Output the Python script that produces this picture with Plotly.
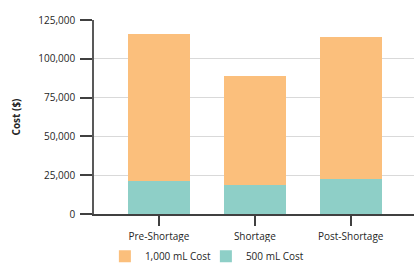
import plotly.graph_objects as go

categories = ["Pre-Shortage", "Shortage", "Post-Shortage"]
cost_500 = [21200, 19000, 22600]
cost_1000 = [94500, 69700, 91400]
y_ticks = [0, 25000, 50000, 75000, 100000, 125000]

FONT = "Open Sans"
fig = go.Figure()
fig.add_bar(x=categories, y=cost_500, name="500 mL Cost", marker_color="#8ECFC7",
            marker_line_width=0, width=0.65)
fig.add_bar(x=categories, y=cost_1000, name="1,000 mL Cost", marker_color="#FBBF7C",
            marker_line_width=0, width=0.65)

fig.update_layout(
    barmode="stack",
    width=418, height=268,
    margin=dict(l=94, r=4, t=20, b=54, autoexpand=False),
    paper_bgcolor="white", plot_bgcolor="white",
    font=dict(family=FONT, size=10, color="#262626"),
    showlegend=True,
    legend=dict(orientation="h", x=0.034, xanchor="left", y=-0.218, yanchor="middle",
                traceorder="reversed", font=dict(size=10), entrywidth=56),
    xaxis=dict(range=[-0.677, 2.66], showline=True, linecolor="#404040", linewidth=1.5,
               ticks="outside", ticklen=10, tickcolor="#404040", tickwidth=1.5,
               showgrid=False, tickfont=dict(size=10), ticklabelstandoff=2),
    yaxis=dict(range=[0, 125000], tickvals=y_ticks, tickformat=",d",
               showline=True, linecolor="#595959", linewidth=1.5,
               ticks="outside", ticklen=12, tickcolor="#404040", tickwidth=1.5,
               showgrid=True, gridcolor="#D9D9D9", gridwidth=1,
               title=dict(text="<b>Cost ($)</b>", font=dict(size=10), standoff=16),
               zeroline=False, tickfont=dict(size=10), ticklabelstandoff=3),
)
fig.write_html("out.html")
